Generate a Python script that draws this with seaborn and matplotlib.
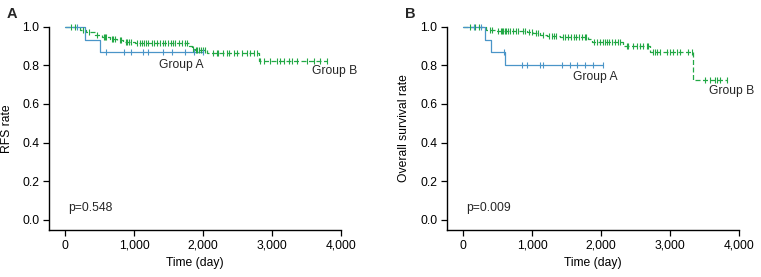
import numpy as np
import pandas as pd
import matplotlib
matplotlib.use("Agg")
import matplotlib.pyplot as plt
import seaborn as sns
from matplotlib.ticker import FuncFormatter

sns.set_theme(style="ticks")
plt.rcParams['font.family'] = ['Liberation Sans', 'DejaVu Sans']

# ---------------- data ----------------
# Panel A: RFS
rfs_a_times = [0, 290, 507]
rfs_a_surv = [1.0, 0.933, 0.867]
rfs_a_censor = [170, 595, 860, 957, 1135, 1207, 1425, 1546, 1740, 1875, 2005]

rfs_b_times = [0, 218, 300, 435, 531, 653, 750, 847, 1016, 1790, 1838, 1886, 2055, 2805]
rfs_b_surv = [1.0, 0.983, 0.971, 0.959, 0.948, 0.938, 0.931, 0.921, 0.914, 0.90, 0.886, 0.879, 0.865, 0.822]
rfs_b_censor = [80, 150, 260, 350, 470, 560, 580, 600, 680, 700, 720, 790, 810, 880, 900, 930,
                960, 1050, 1080, 1110, 1140, 1170, 1200, 1260, 1290, 1340, 1380, 1420, 1450,
                1490, 1530, 1560, 1600, 1650, 1700, 1740, 1770, 1850, 1900, 1920, 1940, 1970,
                2000, 2030, 2152, 2201, 2224, 2297, 2346, 2370, 2442, 2491, 2564, 2637, 2685,
                2733, 2781, 2830, 2878, 2975, 3072, 3120, 3169, 3241, 3290, 3363, 3508, 3604,
                3701, 3798]

# Panel B: overall survival
os_a_times = [0, 315, 402, 605]
os_a_surv = [1.0, 0.933, 0.867, 0.80]
os_a_censor = [150, 250, 595, 847, 920, 1113, 1161, 1428, 1549, 1646, 1766, 1887, 2023]

os_b_times = [0, 329, 460, 920, 1016, 1113, 1210, 1403, 1814, 1862, 2322, 2710, 3338]
os_b_surv = [1.0, 0.983, 0.978, 0.971, 0.966, 0.957, 0.950, 0.945, 0.935, 0.923, 0.90, 0.868, 0.723]
os_b_censor = [100, 170, 230, 390, 420, 500, 540, 560, 580, 600, 620, 650, 680, 720, 760, 800,
               860, 900, 950, 1000, 1050, 1090, 1150, 1250, 1280, 1320, 1350, 1450, 1480, 1520,
               1560, 1600, 1640, 1680, 1720, 1760, 1780, 1900, 1940, 1980, 2020, 2060, 2090,
               2120, 2160, 2200, 2240, 2280, 2371, 2395, 2467, 2516, 2565, 2612, 2661, 2685,
               2758, 2782, 2806, 2855, 2952, 3000, 3049, 3097, 3145, 3266, 3315, 3508, 3581,
               3653, 3677, 3726, 3823]

x_ticks = [0, 1000, 2000, 3000, 4000]
y_ticks = [0.0, 0.2, 0.4, 0.6, 0.8, 1.0]

BLUE = "#4a95c8"
GREEN = "#22a845"


def draw_km(ax, times, surv, censor, color, dashed):
    end = max(max(censor), times[-1])
    df = pd.DataFrame({"t": list(times) + [end], "s": list(surv) + [surv[-1]]})
    sns.lineplot(data=df, x="t", y="s", ax=ax, drawstyle="steps-post", estimator=None,
                 sort=False, color=color, linewidth=0.9,
                 linestyle=(0, (4, 2)) if dashed else "-", clip_on=False)
    idx = np.searchsorted(np.array(times), np.array(censor), side="right") - 1
    cdf = pd.DataFrame({"t": censor, "s": np.array(surv)[idx]})
    sns.scatterplot(data=cdf, x="t", y="s", ax=ax, marker="|", s=18, color=color,
                    linewidth=0.8, clip_on=False, zorder=3)


fig = plt.figure(figsize=(7.61, 2.77), dpi=100)
axA = fig.add_axes([49 / 761, 47 / 277, 292 / 761, 203.3 / 277])
axB = fig.add_axes([447.3 / 761, 47 / 277, 291.7 / 761, 203.3 / 277])

FS = 8.7
for ax, ylabel in [(axA, "RFS rate"), (axB, "Overall survival rate")]:
    ax.set_xlim(-232, 4000)
    ax.set_ylim(-0.053, 1.0)
    ax.set_xticks(x_ticks)
    ax.set_yticks(y_ticks)
    ax.xaxis.set_major_formatter(FuncFormatter(lambda v, p: f"{int(v):,}"))
    ax.yaxis.set_major_formatter(FuncFormatter(lambda v, p: f"{v:.1f}"))
    ax.tick_params(axis="both", labelsize=FS, length=4, width=0.9, color="black",
                   labelcolor="black", pad=3)
    for side in ["top", "right"]:
        ax.spines[side].set_visible(False)
    for side in ["left", "bottom"]:
        ax.spines[side].set_linewidth(1.0)
        ax.spines[side].set_color("black")
    ax.set_xlabel("Time (day)", fontsize=FS, color="black")
    ax.set_ylabel(ylabel, fontsize=FS, color="black")
    ax.xaxis.set_label_coords(0.5, -0.135)
    ax.set_facecolor("white")

axA.yaxis.set_label_coords(-0.123, 0.5)
axB.yaxis.set_label_coords(-0.128, 0.5)

draw_km(axA, rfs_b_times, rfs_b_surv, rfs_b_censor, GREEN, True)
draw_km(axA, rfs_a_times, rfs_a_surv, rfs_a_censor, BLUE, False)
draw_km(axB, os_b_times, os_b_surv, os_b_censor, GREEN, True)
draw_km(axB, os_a_times, os_a_surv, os_a_censor, BLUE, False)

axA.text(1683, 0.80, "Group A", fontsize=FS, ha="center", va="center")
axA.text(3904, 0.77, "Group B", fontsize=FS, ha="center", va="center")
axA.text(44, 0.06, "p=0.548", fontsize=FS, ha="left", va="center")
axB.text(1911, 0.74, "Group A", fontsize=FS, ha="center", va="center")
axB.text(3899, 0.668, "Group B", fontsize=FS, ha="center", va="center")
axB.text(40, 0.06, "p=0.009", fontsize=FS, ha="left", va="center")

fig.text(7 / 761, 1 - 14 / 277, "A", fontsize=10.5, fontweight="bold", ha="left", va="center")
fig.text(405 / 761, 1 - 14 / 277, "B", fontsize=10.5, fontweight="bold", ha="left", va="center")

fig.savefig("out.png", dpi=100, facecolor="white")
